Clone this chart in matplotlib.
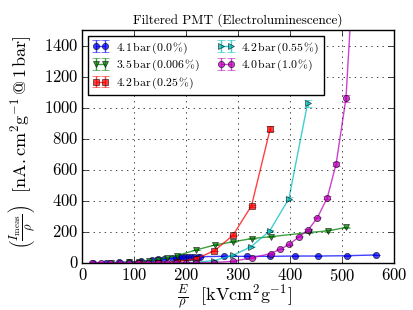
import numpy as np
import matplotlib
matplotlib.use('Agg')
import matplotlib.pyplot as plt

plt.style.use('classic')
plt.rcParams['figure.facecolor'] = 'white'
plt.rcParams['savefig.facecolor'] = 'white'
plt.rcParams['font.family'] = 'serif'
plt.rcParams['font.serif'] = ['cmr10', 'DejaVu Serif']
plt.rcParams['mathtext.fontset'] = 'cm'
plt.rcParams['axes.formatter.use_mathtext'] = True

# 4.1 bar (0.0 %)
x_blue = [20, 45, 70, 90, 113, 135, 146, 158, 172, 180, 186, 192, 198, 204, 210, 216, 222, 226,
          272, 317, 362, 409, 454, 510, 566]
y_blue = [0.5, 1, 2, 5, 10, 15, 21, 24, 28, 32, 34, 35, 36, 37, 38, 38, 39, 39,
          41, 41, 41, 43, 43, 45, 50]

# 3.5 bar (0.006 %)
x_green = [55, 90, 110, 128, 146, 164, 182, 219, 255, 291, 327, 364, 437, 473, 509]
y_green = [0.5, 2, 5, 12, 20, 32, 45, 82, 114, 135, 156, 168, 195, 205, 228]

# 4.2 bar (0.25 %)
x_red = [109, 145, 182, 218, 254, 290, 326, 362]
y_red = [0.3, 1, 5, 25, 76, 176, 368, 864]

# 4.2 bar (0.55 %)
x_cyan = [182, 218, 254, 290, 325, 361, 398, 434]
y_cyan = [0.3, 2, 14, 47, 103, 205, 413, 1028]

# 4.0 bar (1.0 %)
x_mag = [18, 36, 54, 72, 90, 108, 127, 145, 163, 181, 199, 218, 254, 290, 326, 363, 381,
         399, 417, 435, 453, 472, 489, 508, 526]
y_mag = [0, 0, 0, 0, 0, 0, 0, 0.1, 0.1, 0.2, 0.3, 0.5, 1, 9, 31, 59, 87,
         118, 166, 210, 291, 419, 637, 1061, 2100]

series = [
    (x_blue, y_blue, 'b', 'o', r'$4.1\,\mathrm{bar}\,(0.0\,\%)$'),
    (x_green, y_green, 'g', 'v', r'$3.5\,\mathrm{bar}\,(0.006\,\%)$'),
    (x_red, y_red, 'r', 's', r'$4.2\,\mathrm{bar}\,(0.25\,\%)$'),
    (x_cyan, y_cyan, 'c', '>', r'$4.2\,\mathrm{bar}\,(0.55\,\%)$'),
    (x_mag, y_mag, 'm', 'o', r'$4.0\,\mathrm{bar}\,(1.0\,\%)$'),
]

fig = plt.figure(figsize=(4.14, 3.10), dpi=100)
ax = fig.add_axes([0.199, 0.1526, 0.752, 0.75])

for xs, ys, c, m, lab in series:
    xs = np.array(xs, dtype=float)
    ys = np.array(ys, dtype=float)
    ax.errorbar(xs, ys, yerr=0.02 * ys, fmt=m + '-', color=c, ecolor=c,
                alpha=0.75, capsize=3, markersize=4.5, markeredgecolor='k',
                markeredgewidth=0.5, linewidth=1, label=lab)

ax.set_xlim(0, 600)
ax.set_ylim(0, 1500)
ax.grid(True, linestyle=':', color='k', linewidth=0.5)
ax.tick_params(direction='in', top=True, right=True, labelsize=12, pad=3)

ax.set_title('Filtered PMT (Electroluminescence)', fontsize=9.5)
ax.set_xlabel(r'$\frac{E}{\rho}$  $[\mathrm{kVcm^2g^{-1}}]$', fontsize=13)
ax.set_ylabel(r'$\left(\frac{I_{\mathrm{meas}}}{\rho}\right)$  $[\mathrm{nA.cm^2g^{-1}\,@\,1\,bar}]$',
              fontsize=13)
ax.xaxis.set_label_coords(0.49, -0.085)
ax.yaxis.set_label_coords(-0.146, 0.52)

ax.legend(loc='upper left', ncol=2, fontsize=8.5, numpoints=2, frameon=True,
          handlelength=1.4, columnspacing=1.5, borderpad=0.35, labelspacing=0.2,
          handletextpad=0.6)

fig.savefig('out.png', dpi=100)
